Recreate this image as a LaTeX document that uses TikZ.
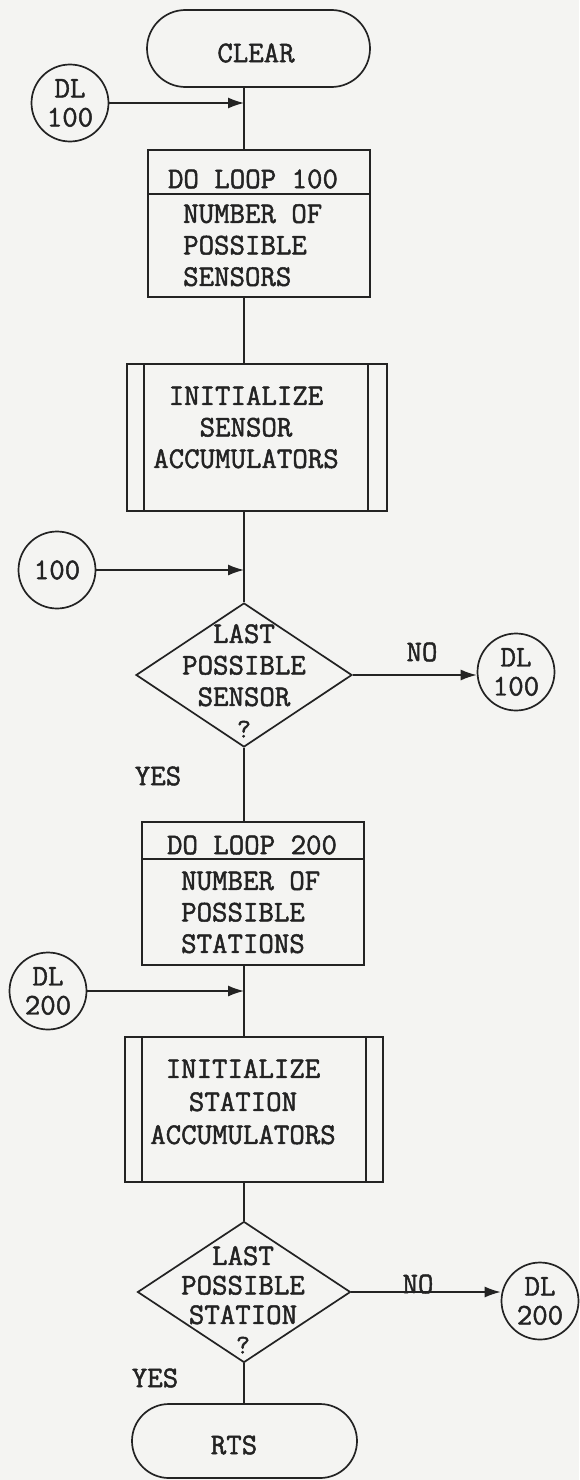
\documentclass[tikz,border=0pt]{standalone}
\usepackage{fontspec}
\setmonofont{Latin Modern Mono}[FakeBold=1.6]
\usetikzlibrary{shapes.geometric,shapes.misc,arrows.meta}
\definecolor{bg}{RGB}{244,244,242}
\definecolor{ink}{RGB}{35,35,35}
\definecolor{txt}{RGB}{35,35,35}
\begin{document}
\begin{tikzpicture}[x=1pt,y=-1pt,
  every node/.style={font=\ttfamily\fontsize{30}{31.5}\selectfont, text=txt},
  shp/.style={draw=ink, line width=1.7pt, inner sep=0pt},
  term/.style={shp, rounded rectangle},
  box/.style={shp, rectangle},
  dec/.style={shp, diamond},
  conn/.style={shp, circle, minimum size=77pt, align=center, font=\ttfamily\fontsize{30}{29}\selectfont},
  txtnode/.style={align=center, inner sep=0pt},
  line/.style={draw=ink, line width=1.4pt},
  arr/.style={line, -{Latex[length=16pt,width=11pt]}},
]
\fill[bg] (0,0) rectangle (579,1480);
\useasboundingbox (0,0) rectangle (579,1480);
\coordinate (ax) at (244,0);

% top terminal and first loop
\node[term, minimum width=223pt, minimum height=77pt] (clear) at (258.5,48.5) {};
\node (cleart) at (256,53) {CLEAR};
\node[conn] (dl100a) at (70,103) {DL\\100};
\node[box, minimum width=222pt, minimum height=147pt] (loop1) at (259,223.5) {};
\draw[line, line width=1.7pt] ([yshift=-45pt]loop1.north west) -- ([yshift=-45pt]loop1.north east);
\node[txtnode] (loop1h) at (253,179) {DO LOOP 100};
\node[txtnode, anchor=north west, align=left] (loop1t) at (183,204) {NUMBER OF\\POSSIBLE\\SENSORS};

\node[box, minimum width=260pt, minimum height=147pt] (init1) at (257,437.5) {};
\draw[line] ([xshift=18pt]init1.north west) -- ([xshift=18pt]init1.south west);
\draw[line] ([xshift=-20pt]init1.north east) -- ([xshift=-20pt]init1.south east);
\node[txtnode, anchor=north] (init1t) at (246,386) {INITIALIZE\\SENSOR\\ACCUMULATORS};

\node[conn] (c100) at (57,570) {100};
\node[dec, minimum width=216pt, minimum height=144pt] (dia1) at (244,675) {};
\node[txtnode, anchor=north] (dia1t) at (244,624) {LAST\\POSSIBLE\\SENSOR\\{\fontsize{27}{27}\selectfont ?}};
\node (no1) at (422,652) {NO};
\node[conn] (dl100b) at (516,672) {DL\\100};
\node (yes1) at (158,776) {YES};

% second loop
\node[box, minimum width=222pt, minimum height=143pt] (loop2) at (253,893.5) {};
\draw[line, line width=1.7pt] ([yshift=-38pt]loop2.north west) -- ([yshift=-38pt]loop2.north east);
\node[txtnode] (loop2h) at (252,845) {DO LOOP 200};
\node[txtnode, anchor=north west, align=left] (loop2t) at (181,871) {NUMBER OF\\POSSIBLE\\STATIONS};
\node[conn] (dl200a) at (48,991) {DL\\200};

\node[box, minimum width=258pt, minimum height=145pt] (init2) at (254,1109.5) {};
\draw[line] ([xshift=18pt]init2.north west) -- ([xshift=18pt]init2.south west);
\draw[line] ([xshift=-18pt]init2.north east) -- ([xshift=-18pt]init2.south east);
\node[txtnode, anchor=north, font=\ttfamily\fontsize{30}{33}\selectfont] (init2t) at (243,1059) {INITIALIZE\\STATION\\ACCUMULATORS};

\node[dec, minimum width=213pt, minimum height=141pt] (dia2) at (244,1292) {};
\node[txtnode, anchor=north, font=\ttfamily\fontsize{30}{29.5}\selectfont] (dia2t) at (243,1246) {LAST\\POSSIBLE\\STATION\\{\fontsize{27}{27}\selectfont ?}};
\node (no2) at (418,1284) {NO};
\node[conn] (dl200b) at (540,1301) {DL\\200};
\node (yes2) at (155,1378) {YES};
\node[term, minimum width=225pt, minimum height=74pt] (rts) at (244.5,1441) {};
\node (rtst) at (234,1445) {RTS};

% connectors
\draw[line] (clear.south -| ax) -- (loop1.north -| ax);
\draw[arr] (dl100a.east) -- (dl100a.east -| ax);
\draw[line] (loop1.south -| ax) -- (init1.north -| ax);
\draw[line] (init1.south -| ax) -- (dia1.north);
\draw[arr] (c100.east) -- (c100.east -| ax);
\draw[arr] (dia1.east) -- (dia1.east -| dl100b.west);
\draw[line] (dia1.south) -- (loop2.north -| ax);
\draw[line] (loop2.south -| ax) -- (init2.north -| ax);
\draw[arr] (dl200a.east) -- (dl200a.east -| ax);
\draw[line] (init2.south -| ax) -- (dia2.north);
\draw[arr] (dia2.east) -- (dia2.east -| dl200b.west);
\draw[line] (dia2.south) -- (rts.north -| ax);
\end{tikzpicture}
\end{document}
